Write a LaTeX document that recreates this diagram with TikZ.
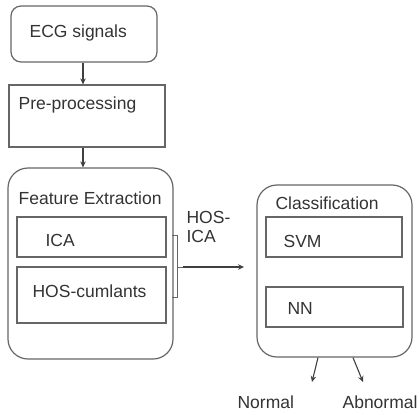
\documentclass[tikz,border=0pt]{standalone}
\usepackage{fontspec}
\setmainfont{Liberation Sans}
\usetikzlibrary{arrows.meta,calc}
\begin{document}
\begin{tikzpicture}[x=1pt,y=-1pt,
  line width=1.2pt, draw=black!60,
  box/.style={draw=black!60, line width=1.2pt, inner sep=0pt},
  rbox/.style={box, rounded corners=#1},
  lbl/.style={anchor=west, inner sep=0pt, text=black!80, font=\fontsize{17.5}{20}\selectfont},
  arr/.style={draw=black!75, line width=1.1pt, -{Stealth[length=6pt,width=5.5pt]}}]
\useasboundingbox (0,0) rectangle (419,414);
% boxes
\node[rbox=10pt, minimum width=146pt, minimum height=56pt] (ecg) at (84,34) {};
\node[box, minimum width=156pt, minimum height=62pt] (pre) at (87,116) {};
\node[rbox=20pt, minimum width=165pt, minimum height=191pt] (fe) at (90.5,263.5) {};
\node[box, minimum width=149pt, minimum height=40pt] (ica) at (91.5,237) {};
\node[box, minimum width=149pt, minimum height=56pt] (hos) at (91.5,295) {};
\node[rbox=20pt, minimum width=155pt, minimum height=172pt] (cls) at (334.5,271) {};
\node[box, minimum width=136pt, minimum height=40pt] (svm) at (334,237) {};
\node[box, minimum width=137pt, minimum height=40pt] (nn) at (334.5,307) {};
% texts
\node[lbl] (tecg) at (29,33) {ECG signals};
\node[lbl] (tpre) at (18,105) {Pre-processing};
\node[lbl] (tfe) at (18,198) {Feature Extraction};
\node[lbl] (tica) at (45,240) {ICA};
\node[lbl] (thos) at (32,291) {HOS-cumlants};
\node[lbl] (tcls) at (275,203) {Classification};
\node[lbl] (tsvm) at (283,241) {SVM};
\node[lbl] (tnn) at (287,308) {NN};
\node[lbl] (th1) at (186,217) {HOS-};
\node[lbl] (th2) at (186,236) {ICA};
\node[lbl] (tnorm) at (237,402) {Normal};
\node[lbl] (tabn) at (342,402) {Abnormal};
% arrows
\draw[arr] (ecg.south -| 83,0) -- (pre.north -| 83,0);
\draw[arr] (pre.south -| 83,0) -- (fe.north -| 83,0);
% bracket
\coordinate (bt) at (172,235);
\coordinate (bb) at (172,297);
\coordinate (bm) at (183,267);
\draw[line width=1pt] (bt) -- ++(5,0) |- (bb);
\draw[line width=1pt] (177,267) -- (bm);
\coordinate (ain) at (244,267);
\draw[arr] (bm) -- (ain);
% outputs
\coordinate (onorm) at (312,382);
\coordinate (oabn) at (363,382);
\draw[arr] ([xshift=-16.5pt]cls.south) -- (onorm);
\draw[arr] ([xshift=18.5pt]cls.south) -- (oabn);
\end{tikzpicture}
\end{document}
